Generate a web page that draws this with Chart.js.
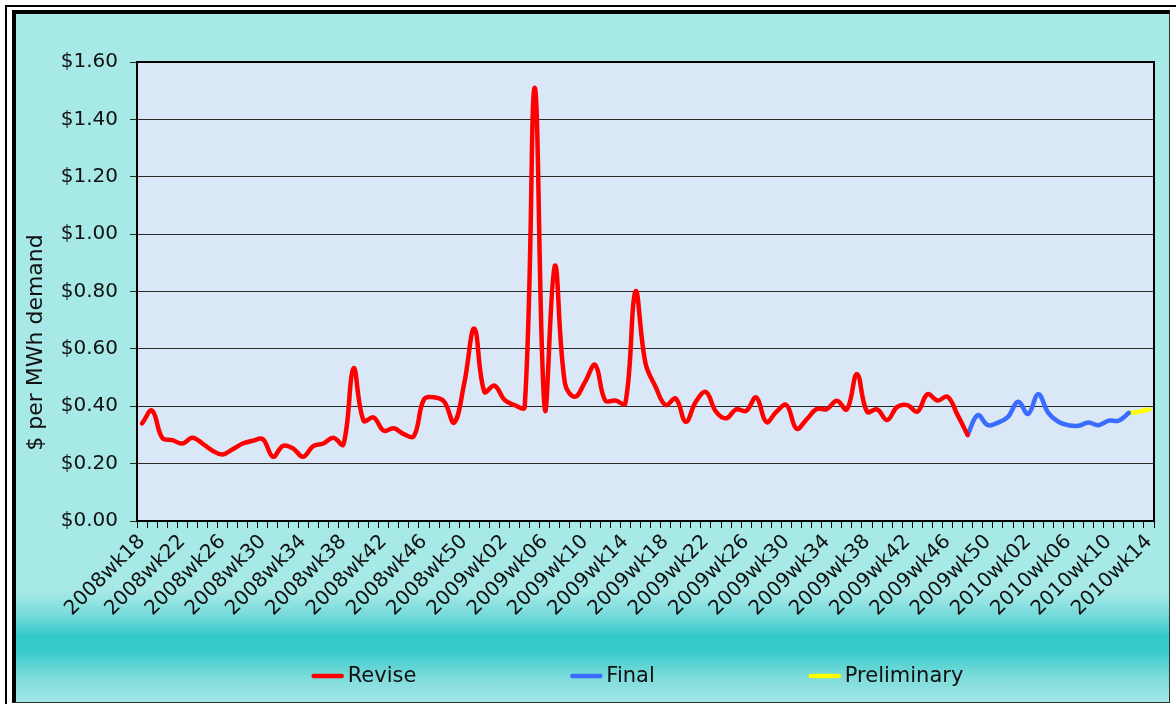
<!DOCTYPE html>
<html>
<head>
<meta charset="utf-8">
<script src="https://cdn.jsdelivr.net/npm/chart.js@4.4.0/dist/chart.umd.min.js"></script>
<style>
  html, body { margin: 0; padding: 0; background: #fff; width: 1176px; height: 704px; overflow: hidden; }
  #frame { position: absolute; left: 5px; top: 5px; width: 1180px; height: 710px; border-left: 2px solid #000; border-top: 2px solid #000; }
  #box {
    position: absolute; left: 12px; top: 10px; width: 1153px; height: 688px;
    border-left: 4px solid #000; border-top: 4px solid #000;
    border-right: 1px solid #333; border-bottom: 1px solid #333;
    background: linear-gradient(to bottom, #a6e9e7 0%, #a6e9e7 84%, #74dad9 87.5%, #34c9c9 90.5%, #38caca 92.5%, #7edcdb 96.5%, #a2e7e5 100%);
  }
  canvas { display: block; }
</style>
</head>
<body>
<div id="frame"></div>
<div id="box"><canvas id="chart" width="1153" height="688"></canvas></div>
<script>
"use strict";

const FONT = "'DejaVu Sans', sans-serif";

// weekly categories, 2008wk18 .. 2010wk14
const categories = [];
const pad = n => (n < 10 ? '0' : '') + n;
for (let w = 18; w <= 52; w++) categories.push('2008wk' + pad(w));
for (let w = 1; w <= 52; w++) categories.push('2009wk' + pad(w));
for (let w = 1; w <= 14; w++) categories.push('2010wk' + pad(w));

// labels shown under the axis (every 4th week)
const tickLabels = ['2008wk18', '2008wk22', '2008wk26', '2008wk30', '2008wk34', '2008wk38',
    '2008wk42', '2008wk46', '2008wk50', '2009wk02', '2009wk06', '2009wk10', '2009wk14',
    '2009wk18', '2009wk22', '2009wk26', '2009wk30', '2009wk34', '2009wk38', '2009wk42',
    '2009wk46', '2009wk50', '2010wk02', '2010wk06', '2010wk10', '2010wk14'];

const yTicks = [0, 0.2, 0.4, 0.6, 0.8, 1.0, 1.2, 1.4, 1.6];

// Revise: 2008wk18 .. 2009wk48
const reviseValues = [
    0.34, 0.385, 0.29, 0.282, 0.27, 0.29, 0.27, 0.245, 0.232, 0.25,
    0.27, 0.28, 0.285, 0.224, 0.262, 0.253, 0.224, 0.261, 0.27, 0.29,
    0.267, 0.532, 0.35, 0.361, 0.315, 0.323, 0.303, 0.296, 0.424, 0.431,
    0.416, 0.343, 0.48, 0.671, 0.45, 0.472, 0.422, 0.404, 0.397, 1.51,
    0.39, 0.89, 0.48, 0.433, 0.485, 0.544, 0.42, 0.42, 0.41, 0.80,
    0.55, 0.468, 0.404, 0.427, 0.346, 0.416, 0.45, 0.381, 0.358, 0.389,
    0.384, 0.431, 0.345, 0.381, 0.404, 0.322, 0.354, 0.39, 0.39, 0.419,
    0.389, 0.512, 0.381, 0.389, 0.352, 0.398, 0.404, 0.381, 0.442, 0.42,
    0.433, 0.369, 0.30
];
// Final: 2009wk48 .. 2010wk11
const finalValues = [
    0.30, 0.369, 0.334, 0.343, 0.363, 0.416, 0.373, 0.442, 0.377, 0.346,
    0.334, 0.332, 0.343, 0.334, 0.35, 0.35, 0.377
];
// Preliminary: 2010wk11 .. 2010wk13
const prelimValues = [0.377, 0.381, 0.389];

const reviseStart = 0, finalStart = 82, prelimStart = 98;

function place(values, start) {
    const out = new Array(categories.length).fill(null);
    values.forEach((v, i) => { out[start + i] = v; });
    return out;
}

function lineSet(label, values, start, color) {
    return {
        label: label,
        data: place(values, start),
        borderColor: color,
        backgroundColor: color,
        borderWidth: 4.5,
        tension: 0.4,
        pointRadius: 0,
        borderCapStyle: 'round',
        borderJoinStyle: 'round',
        spanGaps: false
    };
}

// plot background + frame
const plotBox = {
    id: 'plotBox',
    beforeDraw(chart) {
        const {ctx, chartArea: a} = chart;
        ctx.save();
        ctx.fillStyle = '#dae7f6';
        ctx.fillRect(a.left, a.top, a.right - a.left, a.bottom - a.top);
        ctx.restore();
    },
    beforeDatasetsDraw(chart) {
        const {ctx, chartArea: a} = chart;
        ctx.save();
        ctx.strokeStyle = '#000';
        ctx.lineWidth = 2;
        ctx.strokeRect(a.left, a.top, a.right - a.left, a.bottom - a.top);
        ctx.restore();
    }
};

// y title and legend at the bottom
const extras = {
    id: 'extras',
    afterDraw(chart) {
        const {ctx, chartArea: a} = chart;
        ctx.save();
        ctx.fillStyle = '#111';
        ctx.font = '22px ' + FONT;
        ctx.textAlign = 'center';
        ctx.textBaseline = 'middle';
        ctx.translate(20, (a.top + a.bottom) / 2 + 51);
        ctx.rotate(-Math.PI / 2);
        ctx.fillText('$ per MWh demand', 0, 0);
        ctx.restore();

        ctx.save();
        ctx.font = '21px ' + FONT;
        ctx.textBaseline = 'middle';
        ctx.textAlign = 'left';
        const sets = chart.data.datasets;
        const lineLen = 32, gapText = 4, gapItem = 154;
        const widths = sets.map(d => lineLen + gapText + ctx.measureText(d.label).width);
        const total = widths.reduce((s, w) => s + w, 0) + gapItem * (sets.length - 1);
        let x = (a.left + a.right) / 2 - total / 2 - 8;
        const y = 662;
        sets.forEach((d, i) => {
            ctx.strokeStyle = d.borderColor;
            ctx.lineWidth = 4.5;
            ctx.lineCap = 'round';
            ctx.beginPath();
            ctx.moveTo(x + 2, y);
            ctx.lineTo(x + lineLen - 2, y);
            ctx.stroke();
            ctx.fillStyle = '#111';
            ctx.fillText(d.label, x + lineLen + gapText, y + 1);
            x += widths[i] + gapItem;
        });
        ctx.restore();
    }
};

new Chart(document.getElementById('chart'), {
    type: 'line',
    data: {
        labels: categories,
        datasets: [
            lineSet('Revise', reviseValues, reviseStart, '#ff0000'),
            lineSet('Final', finalValues, finalStart, '#3a6cff'),
            lineSet('Preliminary', prelimValues, prelimStart, '#ffff00')
        ]
    },
    options: {
        responsive: false,
        devicePixelRatio: 1,
        animation: false,
        layout: { padding: { top: 48, right: 15, left: 0, bottom: 0 } },
        plugins: {
            legend: { display: false },
            tooltip: { enabled: false }
        },
        scales: {
            x: {
                type: 'category',
                offset: true,
                grid: { offset: true, drawOnChartArea: false, drawTicks: true, tickLength: 7, color: '#000', lineWidth: 1 },
                border: { display: true, color: '#000', width: 2 },
                ticks: {
                    autoSkip: false,
                    minRotation: 45,
                    maxRotation: 45,
                    padding: 2,
                    color: '#111',
                    font: { family: FONT, size: 20 },
                    callback: function (v) {
                        const lab = this.getLabelForValue(v);
                        return tickLabels.includes(lab) ? lab : '';
                    }
                },
                afterFit: s => { s.height = 181; }
            },
            y: {
                min: yTicks[0],
                max: yTicks[yTicks.length - 1],
                afterBuildTicks: s => { s.ticks = yTicks.map(v => ({ value: v })); },
                grid: { color: '#2a2a2a', lineWidth: 1, drawTicks: true, tickLength: 7 },
                border: { display: true, color: '#000', width: 2 },
                ticks: {
                    padding: 12,
                    color: '#111',
                    font: { family: FONT, size: 20 },
                    callback: v => '$' + v.toFixed(2)
                },
                afterFit: s => { s.width = 121; }
            }
        }
    },
    plugins: [plotBox, extras]
});
</script>
</body>
</html>
